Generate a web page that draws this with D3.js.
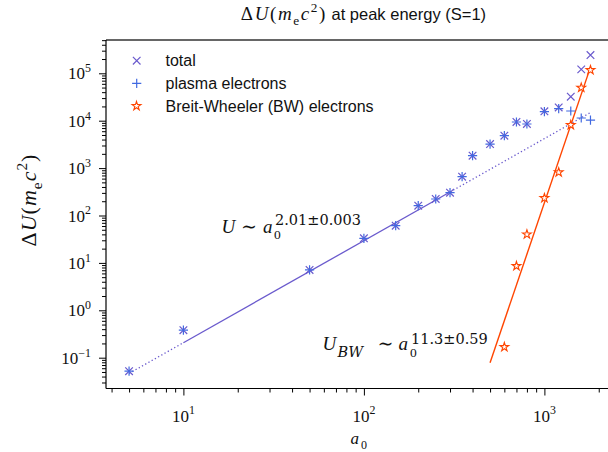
<!DOCTYPE html>
<html><head><meta charset="utf-8">
<script src="https://cdn.jsdelivr.net/npm/d3@7"></script>
<style>body{margin:0;background:#fff}</style>
</head><body>
<svg id="c" width="608" height="452" xmlns="http://www.w3.org/2000/svg"></svg>
<script>
// ---- data ----
const a0 = [5, 10, 50, 100, 150, 200, 250, 300, 350, 400, 500, 600, 700, 800, 1000, 1200, 1400, 1600, 1800];
const totalU = [0.052, 0.38, 7.1, 33, 61, 161, 223, 303, 660, 1830, 3220, 4830, 9390, 8520, 15800, 19000, 32100, 121000, 243000];
const plasmaU = [0.052, 0.38, 7.1, 33, 61, 161, 223, 303, 660, 1830, 3220, 4830, 9390, 8520, 15600, 18000, 16000, 11400, 10300];
const bwA0 = [600, 700, 800, 1000, 1200, 1400, 1600, 1800];
const bwU = [0.168, 8.6, 40, 233, 815, 8120, 49700, 117000];
// fitted power laws (endpoints of drawn segments)
const fitTotalA0 = [5, 10, 300, 1800];
const fitTotalU = [0.0466, 0.207, 313, 14870];
const fitTotalStyle = ["dotted", "solid", "dotted"];
const fitBwA0 = [500, 1800];
const fitBwU = [0.0785, 135000];
const xTickExp = [1, 2, 3];
const yTickExp = [-1, 0, 1, 2, 3, 4, 5];
const legendLabels = ["total", "plasma electrons", "Breit-Wheeler (BW) electrons"];

// ---- layout ----
const svg = d3.select("#c");
const L = 106, R = 640, T = 40, B = 388.5;
const cTot = "#6a5acd", cPl = "#4169e1", cBw = "#ff4500";
const serif = "'Liberation Serif', 'DejaVu Serif', serif";
const serif2 = "'DejaVu Serif', serif";
const sans = "'Liberation Sans', Arial, sans-serif";

const xRef = d3.scaleLog().domain([10, 1000]).range([183.4, 544.4]);
const x = d3.scaleLog().domain([xRef.invert(L), xRef.invert(R)]).range([L, R]);
const yRef = d3.scaleLog().domain([0.1, 1e5]).range([357.7, 73.3]);
const y = d3.scaleLog().domain([yRef.invert(B), yRef.invert(T)]).range([B, T]);

function minorTicks(sc) {
  const [d0, d1] = sc.domain();
  const out = [];
  for (let e = Math.floor(Math.log10(d0)); e <= Math.ceil(Math.log10(d1)); e++)
    for (let k = 2; k <= 9; k++) { const v = k * Math.pow(10, e); if (v >= d0 && v <= d1) out.push(v); }
  return out;
}

// mathtext helper
function math(txt, parts, fs) {
  const sfs = fs * 0.7;
  let shift = 0;
  parts.forEach(p => {
    const [s, kind] = p;
    let target = 0, size = fs, it = false;
    if (kind.includes("sub")) { target = fs * 0.28; size = sfs; }
    if (kind.includes("sup")) { target = -fs * 0.42; size = sfs; }
    if (kind.includes("i")) it = true;
    const t = txt.append("tspan").text(s)
      .attr("font-size", size).attr("font-style", it ? "italic" : "normal")
      .attr("font-family", p[2] || serif);
    if (target - shift !== 0) t.attr("dy", target - shift);
    shift = target;
  });
  return txt;
}
function piece(px, py, s, fs, it, fam) {
  return svg.append("text").attr("x", px).attr("y", py).attr("font-family", fam || serif)
    .attr("font-size", fs).attr("font-style", it ? "italic" : "normal").attr("fill", "#111").text(s);
}

// axes ticks
const gx = svg.append("g").attr("transform", `translate(0,${B})`);
gx.call(d3.axisBottom(x).tickValues(xTickExp.map(e => Math.pow(10, e))).tickSize(7).tickFormat(""));
gx.call(g => g.select(".domain").remove());
const gx2 = svg.append("g").attr("transform", `translate(0,${B})`);
gx2.call(d3.axisBottom(x).tickValues(minorTicks(x)).tickSize(4).tickFormat(""));
gx2.call(g => g.select(".domain").remove());
const gy = svg.append("g").attr("transform", `translate(${L},0)`);
gy.call(d3.axisLeft(y).tickValues(yTickExp.map(e => Math.pow(10, e))).tickSize(7).tickFormat(""));
gy.call(g => g.select(".domain").remove());
const gy2 = svg.append("g").attr("transform", `translate(${L},0)`);
gy2.call(d3.axisLeft(y).tickValues(minorTicks(y)).tickSize(4).tickFormat(""));
gy2.call(g => g.select(".domain").remove());
svg.selectAll(".tick line").attr("stroke", "#000").attr("stroke-width", 1);

// spines
svg.append("line").attr("x1", L).attr("x2", 608).attr("y1", B).attr("y2", B).attr("stroke", "#000").attr("stroke-width", 1.2);
svg.append("line").attr("x1", L).attr("x2", 608).attr("y1", T).attr("y2", T).attr("stroke", "#333").attr("stroke-width", 1.5);
svg.append("line").attr("x1", L).attr("x2", L).attr("y1", T).attr("y2", B).attr("stroke", "#000").attr("stroke-width", 1.2);

// tick labels
xTickExp.forEach(e => {
  const t = svg.append("text").attr("x", x(Math.pow(10, e))).attr("y", 421.5).attr("text-anchor", "middle").attr("fill", "#111");
  math(t, [["10", "r"], [String(e), "sup"]], 17);
});
yTickExp.forEach(e => {
  const t = svg.append("text").attr("x", 91).attr("y", y(Math.pow(10, e)) + 6).attr("text-anchor", "end").attr("fill", "#111");
  math(t, [["10", "r"], [(e < 0 ? "\u2212" : "") + Math.abs(e), "sup"]], 17);
});

// axis labels
piece(350.5, 444, "a", 17, true);
piece(361, 448.5, "0", 12, false);
{
  const t = svg.append("text").attr("transform", "translate(36,200) rotate(-90)").attr("text-anchor", "middle")
    .attr("fill", "#111").attr("letter-spacing", 1);
  math(t, [["\u0394", "r"], ["U", "i"], ["(", "r"], ["m", "i"], ["e", "sub"], ["c", "i"], ["2", "sup"], [")", "r"]], 22);
}
// title
{
  const t = svg.append("text").attr("x", 327).attr("y", 19.5).attr("text-anchor", "end")
    .attr("fill", "#111").attr("letter-spacing", 1.6);
  math(t, [["\u0394", "r"], ["U", "i"], ["(", "r"], ["m", "i"], ["e", "sub"], ["c", "i"], ["2", "sup"], [")", "r"]], 19);
  svg.append("text").attr("x", 331.5).attr("y", 19.5).attr("font-family", sans).attr("font-size", 16.5)
    .attr("fill", "#111").text("at peak energy (S=1)");
}

// fit lines
const line = d3.line().x(d => x(d[0])).y(d => y(d[1]));
fitTotalStyle.forEach((st, i) => {
  svg.append("path").attr("d", line([[fitTotalA0[i], fitTotalU[i]], [fitTotalA0[i + 1], fitTotalU[i + 1]]]))
    .attr("fill", "none").attr("stroke", cTot).attr("stroke-width", 1.3)
    .attr("stroke-dasharray", st === "dotted" ? "1.3,2.4" : null);
});
svg.append("path").attr("d", line(fitBwA0.map((v, i) => [v, fitBwU[i]])))
  .attr("fill", "none").attr("stroke", cBw).attr("stroke-width", 1.4);

// markers
function cross(g, cx, cy, s, col) {
  g.append("path").attr("d", `M${cx - s},${cy - s}L${cx + s},${cy + s}M${cx - s},${cy + s}L${cx + s},${cy - s}`)
    .attr("stroke", col).attr("stroke-width", 1.2).attr("fill", "none");
}
function plus(g, cx, cy, s, col) {
  g.append("path").attr("d", `M${cx - s},${cy}L${cx + s},${cy}M${cx},${cy - s}L${cx},${cy + s}`)
    .attr("stroke", col).attr("stroke-width", 1.2).attr("fill", "none");
}
const star = d3.symbol().type(d3.symbolStar).size(24);
function starM(g, cx, cy) {
  g.append("path").attr("d", star()).attr("transform", `translate(${cx},${cy})`)
    .attr("fill", "#fff").attr("stroke", cBw).attr("stroke-width", 1.1);
}
const gm = svg.append("g");
a0.forEach((v, i) => cross(gm, x(v), y(totalU[i]), 3.8, cTot));
a0.forEach((v, i) => plus(gm, x(v), y(plasmaU[i]), 4.6, cPl));
bwA0.forEach((v, i) => starM(gm, x(v), y(bwU[i])));

// annotations
piece(221.5, 233.3, "U", 19, true);
piece(241, 233.3, "\u223C", 19, false);
piece(263, 233.3, "a", 19, true);
piece(274, 238.5, "0", 13.5, false);
piece(275, 225.3, "2.01\u00B10.003", 14.5, false, serif2);

piece(322.5, 350.3, "U", 19, true);
piece(337.5, 356.8, "BW", 14.5, true, serif2);
piece(377.5, 350.3, "\u223C", 19, false);
piece(398.5, 350.3, "a", 19, true);
piece(410, 356.8, "0", 13.5, false);
piece(411, 344.3, "11.3\u00B10.59", 14.5, false, serif2);

// legend
const lg = svg.append("g");
const ly = [60.7, 83.3, 106];
cross(lg, 136.7, ly[0], 3.8, cTot);
plus(lg, 136.7, ly[1], 4.6, cPl);
starM(lg, 136.5, ly[2]);
legendLabels.forEach((s, i) => {
  lg.append("text").attr("x", 165.5).attr("y", ly[i] + 5.5).attr("font-family", sans).attr("font-size", 16).attr("fill", "#111").text(s);
});
</script>
</body></html>
